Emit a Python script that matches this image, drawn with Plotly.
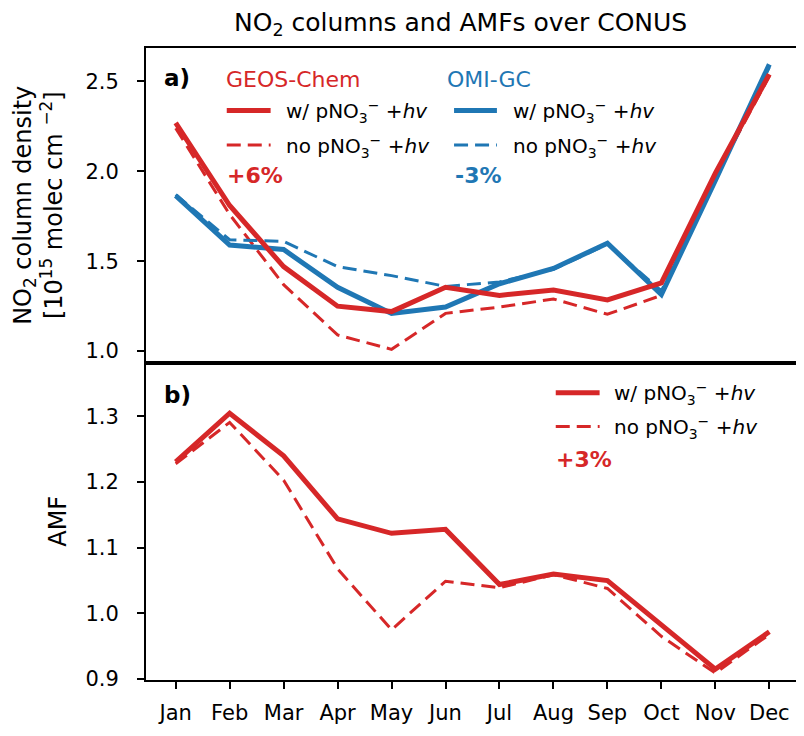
import plotly.graph_objects as go
from plotly.subplots import make_subplots

months = ["Jan", "Feb", "Mar", "Apr", "May", "Jun", "Jul", "Aug", "Sep", "Oct", "Nov", "Dec"]

# Panel a: NO2 column density [1e15 molec cm-2]
gc_with = [2.27, 1.81, 1.47, 1.25, 1.22, 1.355, 1.31, 1.34, 1.285, 1.38, 1.99, 2.54]
gc_no = [2.24, 1.76, 1.37, 1.09, 1.01, 1.21, 1.245, 1.29, 1.205, 1.31, 1.97, 2.53]
omi_with = [1.865, 1.59, 1.565, 1.355, 1.21, 1.245, 1.375, 1.46, 1.60, 1.315, 1.95, 2.595]
omi_no = [1.87, 1.62, 1.61, 1.47, 1.42, 1.36, 1.385, 1.455, 1.595, 1.335, 1.96, 2.58]

# Panel b: AMF
amf_with = [1.231, 1.305, 1.24, 1.144, 1.122, 1.128, 1.044, 1.06, 1.05, 0.982, 0.915, 0.972]
amf_no = [1.228, 1.291, 1.203, 1.068, 0.975, 1.049, 1.039, 1.059, 1.038, 0.965, 0.909, 0.968]

RED = "#d62728"
BLUE = "#1f77b4"
FONT = "DejaVu Sans"
DASH = "14px,7px"

OFF = 8  # page body margin
W, H = 796, 720
# plot area in reference page px
L, R, T, B = 146, 801, 48, 686


def px(x):
    return (x - L) / (R - L)


def py(y):
    return (B - y) / (B - T)


fig = make_subplots(rows=2, cols=1, shared_xaxes=True, vertical_spacing=0.0,
                    row_heights=[318, 320])

xs = list(range(12))
fig.add_trace(go.Scatter(x=xs, y=gc_no, mode="lines", line=dict(color=RED, width=3, dash=DASH)), row=1, col=1)
fig.add_trace(go.Scatter(x=xs, y=omi_no, mode="lines", line=dict(color=BLUE, width=3, dash=DASH)), row=1, col=1)
fig.add_trace(go.Scatter(x=xs, y=omi_with, mode="lines", line=dict(color=BLUE, width=5)), row=1, col=1)
fig.add_trace(go.Scatter(x=xs, y=gc_with, mode="lines", line=dict(color=RED, width=5)), row=1, col=1)
fig.add_trace(go.Scatter(x=xs, y=amf_no, mode="lines", line=dict(color=RED, width=3, dash=DASH)), row=2, col=1)
fig.add_trace(go.Scatter(x=xs, y=amf_with, mode="lines", line=dict(color=RED, width=5)), row=2, col=1)

axis_common = dict(showline=True, linewidth=2, linecolor="black", mirror=True,
                   showgrid=False, zeroline=False, tickfont=dict(family=FONT, size=21, color="black"))

fig.update_xaxes(range=[-0.55, 11.55], **axis_common)
fig.update_xaxes(ticks="", showticklabels=False, row=1, col=1)
fig.update_xaxes(ticks="outside", ticklen=7, tickwidth=2, tickcolor="black",
                 tickmode="array", tickvals=xs, ticktext=months, ticklabelstandoff=6, row=2, col=1)
fig.update_yaxes(ticks="outside", ticklen=7, tickwidth=2, tickcolor="black", ticklabelstandoff=14, **axis_common)
fig.update_yaxes(range=[0.934, 2.686], tickmode="array", tickvals=[1.0, 1.5, 2.0, 2.5],
                 ticktext=["1.0", "1.5", "2.0", "2.5"], row=1, col=1)
fig.update_yaxes(range=[0.8985, 1.3815], tickmode="array", tickvals=[0.9, 1.0, 1.1, 1.2, 1.3],
                 ticktext=["0.9", "1.0", "1.1", "1.2", "1.3"], row=2, col=1)

ann = []
shapes = []


def text(x, y, s, size=21, color="black", bold=False, anchor="left", angle=0):
    if bold:
        s = "<b>" + s + "</b>"
    ann.append(dict(x=px(x), y=py(y), xref="paper", yref="paper", text=s, showarrow=False,
                    xanchor=anchor, yanchor="middle", textangle=angle,
                    font=dict(family=FONT, size=size, color=color)))


def sample(x0, x1, y, color, solid):
    shapes.append(dict(type="line", xref="paper", yref="paper", x0=px(x0), x1=px(x1), y0=py(y), y1=py(y),
                       line=dict(color=color, width=5 if solid else 3, dash="solid" if solid else DASH)))


w_lbl = "w/ pNO<sub>3</sub><sup>−</sup> +<i>hv</i>"
n_lbl = "no pNO<sub>3</sub><sup>−</sup> +<i>hv</i>"

# Title
text(461, 24, "NO<sub>2</sub> columns and AMFs over CONUS", size=25, anchor="center")
# Y-axis titles
text(38, 207, "NO<sub>2</sub> column density<br>[10<sup>15</sup> molec cm <sup>−2</sup>]", size=24,
     anchor="center", angle=-90)
text(57, 526, "AMF", size=24, anchor="center", angle=-90)

# Panel a labels/legend
text(162, 78, "a)", size=23, bold=True)
text(224, 80, "GEOS-Chem", size=22, color=RED)
text(446, 80, "OMI-GC", size=22, color=BLUE)
sample(227, 271, 111, RED, True)
sample(227, 271, 146, RED, False)
text(284, 112, w_lbl, size=20)
text(284, 147, n_lbl, size=20)
text(225, 177, "+6%", size=22, color=RED, bold=True)
sample(455, 498, 111, BLUE, True)
sample(455, 498, 146, BLUE, False)
text(512, 112, w_lbl, size=20)
text(512, 147, n_lbl, size=20)
text(454, 177, "-3%", size=22, color=BLUE, bold=True)

# Panel b labels/legend
text(162, 398, "b)", size=23, bold=True)
sample(557, 601, 396, RED, True)
sample(557, 601, 430, RED, False)
text(613, 397, w_lbl, size=20)
text(613, 431, n_lbl, size=20)
text(555, 463, "+3%", size=22, color=RED, bold=True)

fig.update_layout(width=W, height=H, autosize=False,
                  margin=dict(l=L - OFF, r=W - (R - OFF), t=T - OFF, b=H - (B - OFF)),
                  paper_bgcolor="white", plot_bgcolor="white", showlegend=False,
                  annotations=ann, shapes=shapes, font=dict(family=FONT, color="black"))

fig.write_html("out.html")
